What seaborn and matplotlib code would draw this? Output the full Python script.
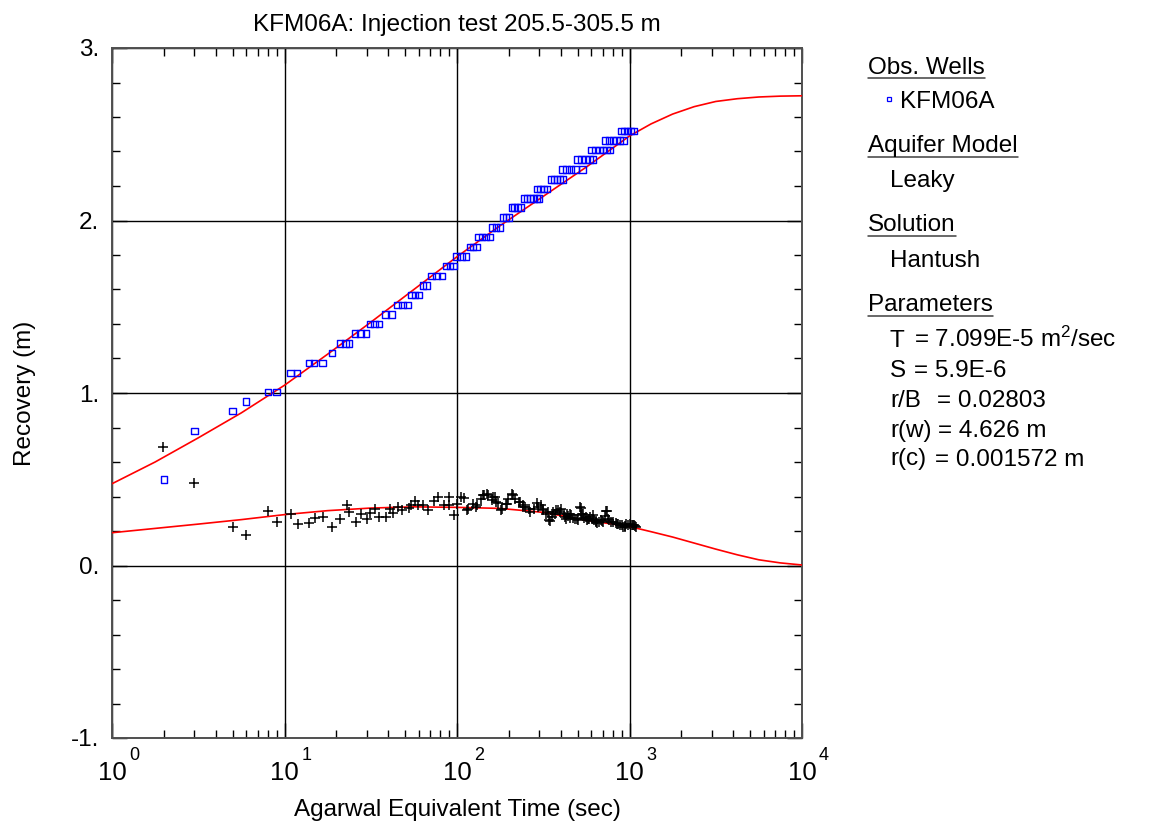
import matplotlib
matplotlib.use("Agg")
import numpy as np
import pandas as pd
import matplotlib.pyplot as plt
import seaborn as sns
from matplotlib.ticker import FixedLocator, FuncFormatter, LogLocator, MultipleLocator, NullFormatter
from matplotlib.lines import Line2D

# Observed recovery, KFM06A (m) versus Agarwal equivalent time (s)
rec_time = [2, 3, 5, 6, 8, 9, 10.8, 11.8, 13.9, 14.8, 16.6, 18.8,
            21.0, 22.6, 23.7, 25.7, 27.5, 29.6, 31.3, 33.3, 35.3, 38.6, 41.6,
            45.3, 48.4, 51.8, 54.3, 57.1, 60.4, 63.5, 66.7, 71.3, 76.2, 81.9,
            86.3, 91.0, 95.6, 99.6, 106, 113, 119, 124, 130, 133, 140, 147, 155,
            160, 168, 178, 185, 192, 200, 208, 216, 225, 234,
            245, 255, 266, 277, 288, 299, 292, 305, 318, 332,
            351, 365, 380, 395, 412, 408, 432, 458, 485, 535,
            499, 527, 556, 585, 614, 604, 635, 668, 702, 738, 769,
            721, 759, 800, 840, 880, 923, 899, 938, 977, 1016, 1055]
rec_value = [0.50, 0.78, 0.895, 0.95, 1.007, 1.007, 1.115, 1.115, 1.173, 1.173, 1.173, 1.231,
             1.287, 1.287, 1.287, 1.345, 1.345, 1.345, 1.401, 1.401, 1.401, 1.455, 1.455,
             1.509, 1.509, 1.509, 1.567, 1.567, 1.567, 1.623, 1.623, 1.679, 1.679, 1.679,
             1.737, 1.737, 1.737, 1.791, 1.791, 1.791, 1.847, 1.847, 1.847, 1.903, 1.903, 1.903, 1.903,
             1.958, 1.958, 1.958, 2.016, 2.016, 2.016, 2.074, 2.074, 2.074, 2.074,
             2.128, 2.128, 2.128, 2.128, 2.128, 2.128, 2.183, 2.183, 2.183, 2.183,
             2.239, 2.239, 2.239, 2.239, 2.239, 2.297, 2.297, 2.297, 2.297, 2.297,
             2.354, 2.354, 2.354, 2.354, 2.354, 2.410, 2.410, 2.410, 2.410, 2.410, 2.410,
             2.465, 2.465, 2.465, 2.465, 2.465, 2.465, 2.520, 2.520, 2.520, 2.520, 2.520]

# Recovery derivative (m) versus Agarwal equivalent time (s)
der_time = [1.98, 3.0, 5.0, 5.96, 7.99, 9.0, 10.9, 11.9, 13.9, 15.0, 16.8, 18.9,
            21.0, 22.9, 23.7, 25.8, 27.6, 29.9, 31.5, 33.4, 35.4, 38.7, 41.0, 42.4,
            45.5, 47.9, 52.7, 54.1, 57.4, 59.4, 63.5, 67.8, 73.6, 77.9, 84.2, 89.3,
            89.7, 96.7, 99.9, 105, 110, 114, 116, 124, 129, 130, 138, 142, 144, 150,
            151, 160, 162, 166, 168, 173, 181, 183, 192, 194, 198, 209, 210, 216,
            228, 231, 240, 242, 248, 262, 265, 280, 290, 296, 305, 316, 317, 330,
            338, 343, 346, 355, 362, 370, 377, 386, 395, 403, 415, 421, 429, 434,
            440, 449, 452, 460, 472, 485, 493, 500, 515, 520, 522, 532, 540, 545,
            556, 568, 578, 580, 594, 610, 612, 620, 640, 643, 650, 665, 680, 692,
            700, 720, 730, 744, 755, 760, 780, 805, 830, 845, 860, 880, 900, 920,
            940, 943, 960, 980, 1005, 1030, 1050, 1055, 1070, 1095]
der_value = [0.688, 0.479, 0.226, 0.176, 0.317, 0.251, 0.297, 0.242, 0.245, 0.277, 0.284, 0.226,
             0.271, 0.352, 0.313, 0.255, 0.301, 0.271, 0.303, 0.329, 0.284, 0.284, 0.325, 0.303,
             0.342, 0.319, 0.332, 0.352, 0.373, 0.352, 0.350, 0.319, 0.373, 0.400, 0.348, 0.396,
             0.348, 0.290, 0.358, 0.396, 0.390, 0.319, 0.330, 0.358, 0.338, 0.348, 0.387, 0.406, 0.410, 0.416,
             0.406, 0.377, 0.400, 0.400, 0.367, 0.363, 0.319, 0.330, 0.358, 0.358, 0.387, 0.416, 0.410, 0.387,
             0.367, 0.367, 0.342, 0.348, 0.342, 0.330, 0.309, 0.330, 0.361, 0.342, 0.350, 0.319, 0.329, 0.300,
             0.310, 0.261, 0.257, 0.284, 0.310, 0.300, 0.319, 0.323, 0.310, 0.329, 0.300, 0.280, 0.271, 0.300,
             0.285, 0.300, 0.277, 0.290, 0.274, 0.270, 0.271, 0.261, 0.338, 0.290, 0.335, 0.300, 0.300, 0.275,
             0.284, 0.261, 0.271, 0.270, 0.280, 0.270, 0.290, 0.261, 0.260, 0.251, 0.248, 0.255, 0.261, 0.257,
             0.250, 0.286, 0.315, 0.315, 0.271, 0.261, 0.250, 0.253, 0.245, 0.238, 0.240, 0.232, 0.235, 0.226,
             0.230, 0.222, 0.242, 0.235, 0.238, 0.235, 0.232, 0.232, 0.230, 0.226]

# Hantush leaky type curves (log10 time, recovery and derivative)
fit_logt = [0.0, 0.25, 0.5, 0.75, 1.0, 1.25, 1.5, 1.75, 2.0, 2.25, 2.5, 2.75,
            3.0, 3.125, 3.25, 3.375, 3.5, 3.625, 3.75, 3.875, 4.0]
fit_rec = [0.474, 0.60, 0.74, 0.885, 1.045, 1.225, 1.41, 1.60, 1.79, 1.97, 2.14, 2.31,
           2.49, 2.56, 2.617, 2.66, 2.69, 2.706, 2.716, 2.721, 2.723]
fit_der = [0.19, 0.215, 0.24, 0.266, 0.295, 0.318, 0.333, 0.340, 0.337, 0.331, 0.308, 0.262,
           0.226, 0.196, 0.165, 0.13, 0.095, 0.062, 0.033, 0.015, 0.003]

title = "KFM06A: Injection test 205.5-305.5 m"
x_label = "Agarwal Equivalent Time (sec)"
y_label = "Recovery (m)"
x_exponents = [0, 1, 2, 3, 4]
y_major = [-1, 0, 1, 2, 3]

panel_headers = ["Obs. Wells", "Aquifer Model", "Solution", "Parameters"]
panel_items = ["KFM06A", "Leaky", "Hantush"]
param_names = ["T", "S", "r/B", "r(w)", "r(c)"]
param_values = [r"= 7.099E-5 m$^{2}$/sec", "= 5.9E-6", "= 0.02803", "= 4.626 m", "= 0.001572 m"]

sns.set_theme(style="white")
plt.rcParams["font.family"] = ["Liberation Sans", "DejaVu Sans"]
plt.rcParams["mathtext.fontset"] = "custom"
plt.rcParams["mathtext.rm"] = "Liberation Sans"
plt.rcParams["mathtext.it"] = "Liberation Sans"
for key in ["text.color", "axes.labelcolor", "xtick.color", "ytick.color"]:
    plt.rcParams[key] = "black"
FS = 17.5

W, H = 1157, 825
fig = plt.figure(figsize=(W / 100, H / 100), dpi=100)
ax = fig.add_axes([112 / W, 1 - 738 / H, 690 / W, 690 / H])

fit = pd.DataFrame({"t": np.power(10.0, fit_logt), "rec": fit_rec, "der": fit_der})
rec = pd.DataFrame({"t": rec_time, "s": rec_value})
der = pd.DataFrame({"t": der_time, "d": der_value})

sns.lineplot(data=fit, x="t", y="rec", color="#ff0000", lw=1.2, sort=False,
             estimator=None, ax=ax, zorder=3)
sns.lineplot(data=fit, x="t", y="der", color="#ff0000", lw=1.2, sort=False,
             estimator=None, ax=ax, zorder=3)
sns.scatterplot(data=der, x="t", y="d", marker="+", s=46, color="black",
                linewidth=1.1, ax=ax, zorder=4)
sns.scatterplot(data=rec, x="t", y="s", marker="s", s=22, fc="none", ec="#0000ff",
                linewidth=1.0, ax=ax, zorder=5)

ax.set_xscale("log")
ax.set_xlim(1, 1e4)
ax.set_ylim(-1, 3)

x_major = [10.0 ** k for k in x_exponents]
ax.xaxis.set_major_locator(FixedLocator(x_major))
ax.xaxis.set_major_formatter(FuncFormatter(lambda v, p: "10"))
ax.xaxis.set_minor_locator(LogLocator(base=10, subs=np.arange(2, 10)))
ax.xaxis.set_minor_formatter(NullFormatter())
ax.yaxis.set_major_locator(FixedLocator(y_major))
ax.yaxis.set_major_formatter(FuncFormatter(lambda v, p: "%d." % int(round(v))))
ax.yaxis.set_minor_locator(MultipleLocator(0.2))

ax.tick_params(which="both", direction="in", top=True, bottom=True, left=True,
               right=True, color="black", width=1.0)
ax.tick_params(which="major", length=11, labelsize=FS)
ax.tick_params(which="minor", length=5.5)
ax.tick_params(axis="x", which="major", pad=16.5, labelsize=18.5)
ax.tick_params(axis="y", which="major", pad=9)

# decade exponents sit up and to the right of each "10"
for k, xv in zip(x_exponents, x_major):
    ax.annotate(str(k), xy=(xv, 0), xycoords=("data", "axes fraction"),
                xytext=(12.2, -6.8), textcoords="offset points",
                ha="left", va="top", fontsize=13, annotation_clip=False)

ax.grid(True, which="major", color="black", lw=1.0)
for sp in ax.spines.values():
    sp.set_color("#505050")
    sp.set_linewidth(1.4)

ax.set_title(title, fontsize=FS, pad=12)
ax.set_xlabel(x_label, fontsize=FS)
ax.set_ylabel(y_label, fontsize=FS)
ax.xaxis.set_label_coords(0.5, -0.088)
ax.yaxis.set_label_coords(-0.110, 0.5)


def fx(px):
    return px / W


def fy(py):
    return 1 - py / H


# Side panel describing the well, model and fitted parameters
header_base = [73.5, 151.7, 230.7, 310.7]
header_line = [77.5, 156.7, 236.2, 316.0]
item_base = [108.3, 186.7, 266.7]
param_base = [346.7, 376.7, 406.7, 436.7, 465.5]
param_eq_x = [914.5, 914.5, 937.0, 937.5, 935.0]

headers = [fig.text(fx(868), fy(b), h, fontsize=FS, va="baseline", ha="left")
           for h, b in zip(panel_headers, header_base)]
fig.text(fx(900), fy(item_base[0]), panel_items[0], fontsize=FS, va="baseline")
fig.add_artist(Line2D([fx(889)], [fy(98.5)], marker="s", ms=3.4, mfc="none",
                      mec="#0000ff", mew=0.9, ls="none"))
for txt, b in zip(panel_items[1:], item_base[1:]):
    fig.text(fx(890), fy(b), txt, fontsize=FS, va="baseline")
for name, val, b, ex in zip(param_names, param_values, param_base, param_eq_x):
    fig.text(fx(890), fy(b), name, fontsize=FS, va="baseline")
    fig.text(fx(ex), fy(b), val, fontsize=FS, va="baseline")

fig.canvas.draw()
renderer = fig.canvas.get_renderer()
for t, ly in zip(headers, header_line):
    bb = t.get_window_extent(renderer)
    fig.add_artist(Line2D([bb.x0 / W, bb.x1 / W], [fy(ly), fy(ly)],
                          color="#404040", lw=1.1))

fig.savefig("out.png", dpi=100)
